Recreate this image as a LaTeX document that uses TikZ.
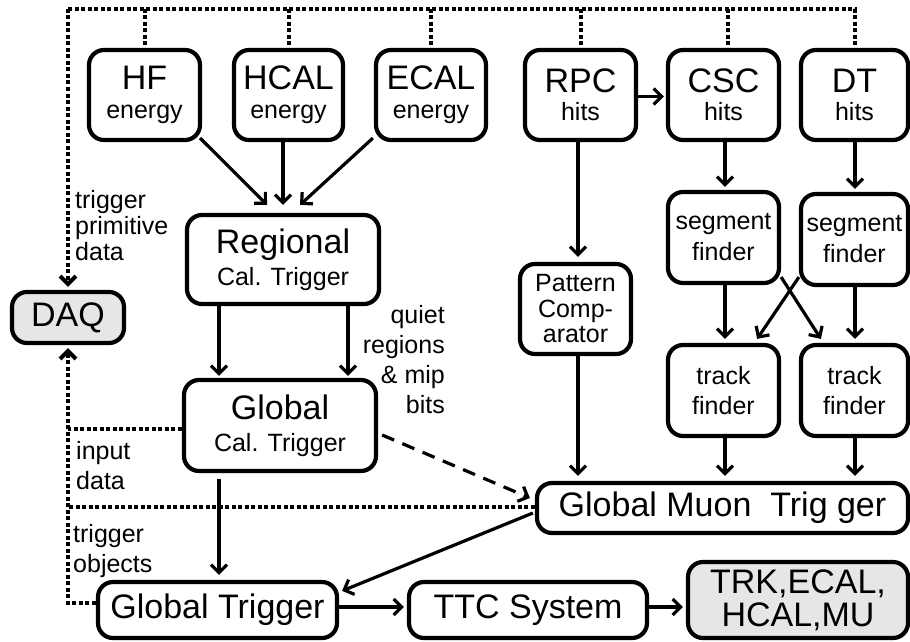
\documentclass[tikz,border=0pt]{standalone}
\usepackage{fontspec}
\setmainfont{Liberation Sans}
\usetikzlibrary{arrows.meta,calc}
\definecolor{boxgray}{RGB}{230,230,230}
\newcommand{\fntB}{\fontsize{34}{34}\selectfont}
\begin{document}
\begin{tikzpicture}[x=1pt,y=-1pt,
  blk/.style={draw, line width=4.2pt, rounded corners=15pt, inner sep=0pt, align=center, font=\fontsize{25}{29}\selectfont},
  tall/.style={minimum height=90pt},
  tip/.style={-{Straight Barb[length=8pt,width=16pt]}},
  arr/.style={line width=3.2pt, tip},
  dotl/.style={line width=4pt, dash pattern=on 4pt off 2.5pt},
  dasharr/.style={line width=3.2pt, dash pattern=on 13pt off 9pt, tip},
  lbl/.style={inner sep=0pt, font=\fontsize{25}{30}\selectfont}
]
\useasboundingbox (0,0) rectangle (910,642);

% top row
\node[blk, tall, minimum width=111pt] (hf) at (144.5,95) {{\fntB HF}\\energy};
\node[blk, tall, minimum width=109pt] (hcal) at (288.5,95) {{\fntB HCAL}\\energy};
\node[blk, tall, minimum width=110pt] (ecal) at (431,95) {{\fntB ECAL}\\energy};
\node[blk, tall, minimum width=111pt, font=\fontsize{25}{28}\selectfont] (rpc) at (580.5,95) {{\fntB RPC}\\hits};
\node[blk, tall, minimum width=111pt, font=\fontsize{25}{28}\selectfont] (csc) at (723.5,95) {{\fntB CSC}\\hits};
\node[blk, tall, minimum width=107pt, font=\fontsize{25}{28}\selectfont] (dt) at (854.5,95) {{\fntB DT}\\hits};

% calorimeter chain
\node[blk, minimum width=192pt, minimum height=89pt, font=\fontsize{25}{32}\selectfont] (reg) at (283,259.5) {{\fntB Regional}\\Cal. Trigger};
\node[blk, minimum width=192pt, minimum height=91pt, font=\fontsize{25}{32}\selectfont] (gct) at (280,425.5) {{\fntB Global}\\Cal. Trigger};
\node[blk, fill=boxgray, minimum width=112pt, minimum height=51pt, font=\fntB] (daq) at (68,317.5) {DAQ};

% muon chain
\node[blk, tall, minimum width=111pt, font=\fontsize{25}{25.5}\selectfont] (pat) at (575.5,309) {Pattern\\Comp-\\arator};
\node[blk, minimum width=111pt, minimum height=91pt, font=\fontsize{25}{31}\selectfont] (seg1) at (723.5,237.5) {segment\\finder};
\node[blk, minimum width=107pt, minimum height=91pt, font=\fontsize{25}{31}\selectfont] (seg2) at (854.5,239.5) {segment\\finder};
\node[blk, minimum width=111pt, minimum height=91pt, font=\fontsize{25}{30}\selectfont] (tf1) at (723.5,390.5) {track\\finder};
\node[blk, minimum width=107pt, minimum height=91pt, font=\fontsize{25}{30}\selectfont] (tf2) at (854.5,390.5) {track\\finder};
\node[blk, minimum width=371pt, minimum height=50pt, font=\fntB] (gmt) at (722.5,508) {Global Muon\ \ Trig ger};

% bottom row
\node[blk, minimum width=239pt, minimum height=56pt, font=\fntB] (gt) at (217.5,610) {Global Trigger};
\node[blk, minimum width=238pt, minimum height=56pt, font=\fntB] (ttc) at (528,610) {TTC System};
\node[blk, fill=boxgray, minimum width=220pt, minimum height=76pt, font=\fontsize{34}{33}\selectfont] (trk) at (798,600) {TRK,ECAL,\\HCAL,MU};

% labels
\node[lbl, anchor=north west, align=left, font=\fontsize{25}{26}\selectfont] (tpd) at (75,190) {trigger\\primitive\\data};
\node[lbl, anchor=north west, align=left] (inp) at (76,441) {input\\data};
\node[lbl, anchor=north west, align=left] (tob) at (73,524) {trigger\\objects};
\node[lbl, anchor=north east, align=right] (qr) at (445,305) {quiet\\regions\\\& mip\\bits};

% dotted readout lines
\coordinate (tl) at (68,9);
\draw[dotl] (tl) -| (dt.north);
\draw[dotl, tip] (tl) -- ($(tl |- daq.north)+(0,-3)$);
\draw[dotl] (hf.north |- tl) -- (hf.north);
\draw[dotl] (hcal.north |- tl) -- (hcal.north);
\draw[dotl] (ecal.north |- tl) -- (ecal.north);
\draw[dotl] (rpc.north |- tl) -- (rpc.north);
\draw[dotl] ($(csc.north |- tl)+(4,0)$) -- ($(csc.north)+(4,0)$);
\draw[dotl, tip] ($(gt.west)+(0,-7)$) -| ($(daq.south)+(0,3)$);
\draw[dotl] ($(gct.west)+(0,3.5)$) -- ($(gct.west -| daq.south)+(0,3.5)$);
\draw[dotl] ($(gmt.west)+(0,-1)$) -- ($(gmt.west -| daq.south)+(0,-1)$);

% calorimeter arrows
\draw[arr] ($(hf.south east)+(-2,-4)$) -- ($(reg.north)+(-16,-8)$);
\draw[arr] ($(hcal.south)+(-5.5,0)$) -- ($(reg.north)+(0,-8)$);
\draw[arr] ($(ecal.south west)+(-1,-4)$) -- ($(reg.north)+(17,-8)$);
\draw[arr] ($(reg.south)+(-64,0)$) -- ($(gct.north)+(-61,-2)$);
\draw[arr] ($(reg.south)+(65,0)$) -- ($(gct.north)+(68,-2)$);
\draw[arr] ($(gct.south)+(-61,6)$) -- ($(gt.north)+(1.5,-5)$);
\draw[dasharr] ($(gct.east)+(4,9.5)$) -- ($(gmt.west)+(-5,-10)$);

% muon arrows
\draw[arr] ($(rpc.south)+(-2.5,0)$) -- ($(pat.north)+(2.5,-5)$);
\draw[arr] ($(pat.south)+(2.5,0)$) -- ($(gmt.north)+(-144.5,-5)$);
\draw[arr] ($(rpc.east)+(0,1.5)$) -- ($(csc.west)+(-2,1.5)$);
\draw[arr] ($(csc.south)+(1.5,0)$) -- ($(seg1.north)+(1.5,-3)$);
\draw[arr] ($(dt.south)+(0.5,0)$) -- ($(seg2.north)+(0.5,-3)$);
\draw[arr] ($(seg1.south)+(1.5,0)$) -- ($(tf1.north)+(1.5,-4)$);
\draw[arr] ($(seg2.south)+(0.5,0)$) -- ($(tf2.north)+(0.5,-4)$);
\draw[arr] ($(seg1.south east)+(0,-8)$) -- ($(tf2.north west)+(22,-4)$);
\draw[arr] ($(seg2.south west)+(0,-10)$) -- ($(tf1.north east)+(-24,-4)$);
\draw[arr] ($(tf1.south)+(1.5,0)$) -- ($(gmt.north)+(2.5,-5)$);
\draw[arr] ($(tf2.south)+(0.5,0)$) -- ($(gmt.north)+(132.5,-5)$);
\draw[arr] ($(gmt.west)+(-2,5)$) -- ($(gt.north east)+(3,11)$);

% bottom arrows
\draw[arr] ($(gt.east)+(0,-3)$) -- ($(ttc.west)+(-3,-3)$);
\draw[arr] ($(ttc.east)+(0,-3)$) -- ($(trk.west)+(-3,7)$);
\end{tikzpicture}
\end{document}
